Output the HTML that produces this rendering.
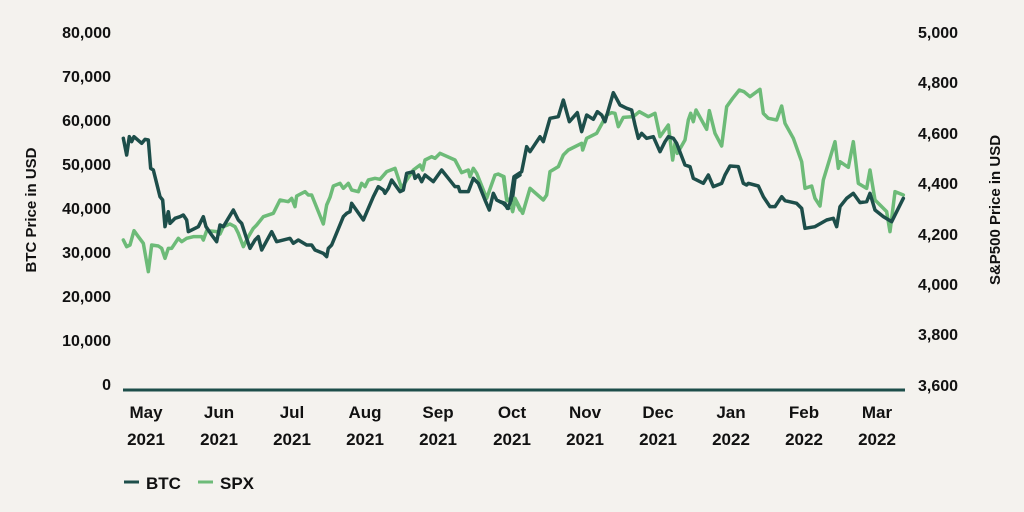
<!DOCTYPE html>
<html><head><style>
body{margin:0;background:#f4f2ee;}
svg{display:block;}
text{font-family:"Liberation Sans",sans-serif;font-weight:bold;fill:#111;}
</style></head><body>
<svg width="1024" height="512" viewBox="0 0 1024 512">
<rect width="1024" height="512" fill="#f4f2ee"/>
<g font-size="16" text-anchor="end">
<text x="111" y="38">80,000</text><text x="111" y="82">70,000</text><text x="111" y="126">60,000</text>
<text x="111" y="170">50,000</text><text x="111" y="214">40,000</text><text x="111" y="258">30,000</text>
<text x="111" y="302">20,000</text><text x="111" y="346">10,000</text><text x="111" y="390">0</text>
</g>
<g font-size="16" text-anchor="start">
<text x="918" y="38">5,000</text><text x="918" y="88">4,800</text><text x="918" y="139">4,600</text>
<text x="918" y="189">4,400</text><text x="918" y="240">4,200</text><text x="918" y="290">4,000</text>
<text x="918" y="340">3,800</text><text x="918" y="391">3,600</text>
</g>
<text transform="translate(36,210) rotate(-90)" font-size="15" text-anchor="middle">BTC Price in USD</text>
<text transform="translate(1000,210) rotate(-90)" font-size="15" text-anchor="middle">S&amp;P500 Price in USD</text>
<line x1="123" y1="390" x2="905" y2="390" stroke="#1d4e4a" stroke-width="3"/>
<g font-size="17" text-anchor="middle">
<text x="146" y="418">May</text><text x="146" y="445">2021</text>
<text x="219" y="418">Jun</text><text x="219" y="445">2021</text>
<text x="292" y="418">Jul</text><text x="292" y="445">2021</text>
<text x="365" y="418">Aug</text><text x="365" y="445">2021</text>
<text x="438" y="418">Sep</text><text x="438" y="445">2021</text>
<text x="512" y="418">Oct</text><text x="512" y="445">2021</text>
<text x="585" y="418">Nov</text><text x="585" y="445">2021</text>
<text x="658" y="418">Dec</text><text x="658" y="445">2021</text>
<text x="731" y="418">Jan</text><text x="731" y="445">2022</text>
<text x="804" y="418">Feb</text><text x="804" y="445">2022</text>
<text x="877" y="418">Mar</text><text x="877" y="445">2022</text>
</g>
<g fill="none" stroke-width="3.5" stroke-linejoin="round" stroke-linecap="round">
<g transform="translate(120,80) scale(0.33333)">
<polyline vector-effect="non-scaling-stroke" stroke="#6dbb78" points="10,480 20,500 30,495 42,452 55,470 70,490 85,575 95,495 115,498 125,505 135,535 145,505 155,505 175,475 185,485 200,475 220,470 245,470 250,480 260,452 290,455 300,462 310,440 330,432 345,440 355,460 370,500 385,470 400,445 410,435 430,410 460,400 480,360 505,365 515,355 525,380 530,348 555,335 565,345 575,345 610,432 620,375 630,352 640,318 660,310 670,325 685,310 695,330 715,335 725,310 735,320 745,300 765,295 780,298 800,275 825,265 845,325 860,300 880,270 900,255 908,270 915,240 935,230 945,235 960,220 1005,240 1025,278 1045,270 1050,290 1060,265 1070,280 1100,355 1125,285 1135,282 1150,290 1160,360 1170,365 1178,395 1185,360 1200,390"/>
<polyline vector-effect="non-scaling-stroke" stroke="#1d4e4a" points="10,175 20,225 28,170 35,185 42,170 65,190 75,178 85,180 92,265 100,270 120,350 128,360 135,440 145,395 150,430 165,415 180,410 190,405 200,420 205,455 235,440 250,410 258,440 275,465 290,485 300,435 310,440 325,415 340,390 355,420 365,430 378,470 390,505 405,480 415,470 425,510 455,455 470,485 510,475 520,490 535,480 560,495 575,495 585,510 610,520 620,530 625,505 635,495 670,410 680,400 690,395 695,370 730,420 760,350 775,320 790,330 795,340 805,325 815,300 840,335 850,330 860,280 880,275 885,295 895,285 905,305 915,285 940,305 965,270 985,295 1005,320 1015,320 1020,335 1045,335 1060,295 1075,310 1095,360 1108,390 1120,340 1130,360 1150,370 1165,385 1175,375 1185,295 1200,285"/>
</g>
<g transform="translate(500,80) scale(0.33333)">
<polyline vector-effect="non-scaling-stroke" stroke="#6dbb78" points="0,285 12,290 20,355 30,360 38,393 45,355 68,400 90,325 130,360 140,345 150,275 175,260 190,225 205,210 245,190 248,210 260,175 290,160 320,105 335,98 345,100 355,140 370,112 400,110 418,95 445,110 465,100 480,170 505,135 518,240 525,190 532,220 555,180 565,120 572,100 580,125 588,90 620,148 628,92 645,160 665,198 680,80 698,55 718,30 732,35 750,50 780,28 790,100 805,115 830,120 845,78 855,130 880,175 905,245 915,325 935,318 945,355 960,378 970,300 1005,185 1015,265 1020,245 1045,262 1060,185 1075,310 1100,325 1110,270 1125,360 1145,380 1160,395 1170,455 1185,335 1210,345"/>
<polyline vector-effect="non-scaling-stroke" stroke="#1d4e4a" points="0,365 15,370 22,385 30,370 42,290 65,275 80,200 90,215 120,170 130,185 150,115 175,110 190,60 208,125 232,98 245,155 260,105 280,118 292,95 305,105 315,125 340,38 360,75 380,85 395,90 405,135 415,175 425,160 440,175 460,170 480,215 495,185 505,170 520,175 530,190 555,255 570,260 580,295 610,310 625,285 640,320 665,310 675,285 690,258 715,260 730,310 740,315 745,310 775,318 790,350 810,380 825,380 845,350 855,362 890,370 905,385 915,445 945,440 980,420 1000,415 1010,440 1020,380 1040,355 1060,340 1080,368 1100,365 1110,340 1125,390 1150,410 1175,425 1210,355"/>
</g>
</g>
<line x1="124" y1="482" x2="139" y2="482" stroke="#1d4e4a" stroke-width="3"/>
<text x="146" y="489" font-size="17">BTC</text>
<line x1="198" y1="482" x2="213" y2="482" stroke="#6dbb78" stroke-width="3"/>
<text x="220" y="489" font-size="17">SPX</text>
</svg>
</body></html>
